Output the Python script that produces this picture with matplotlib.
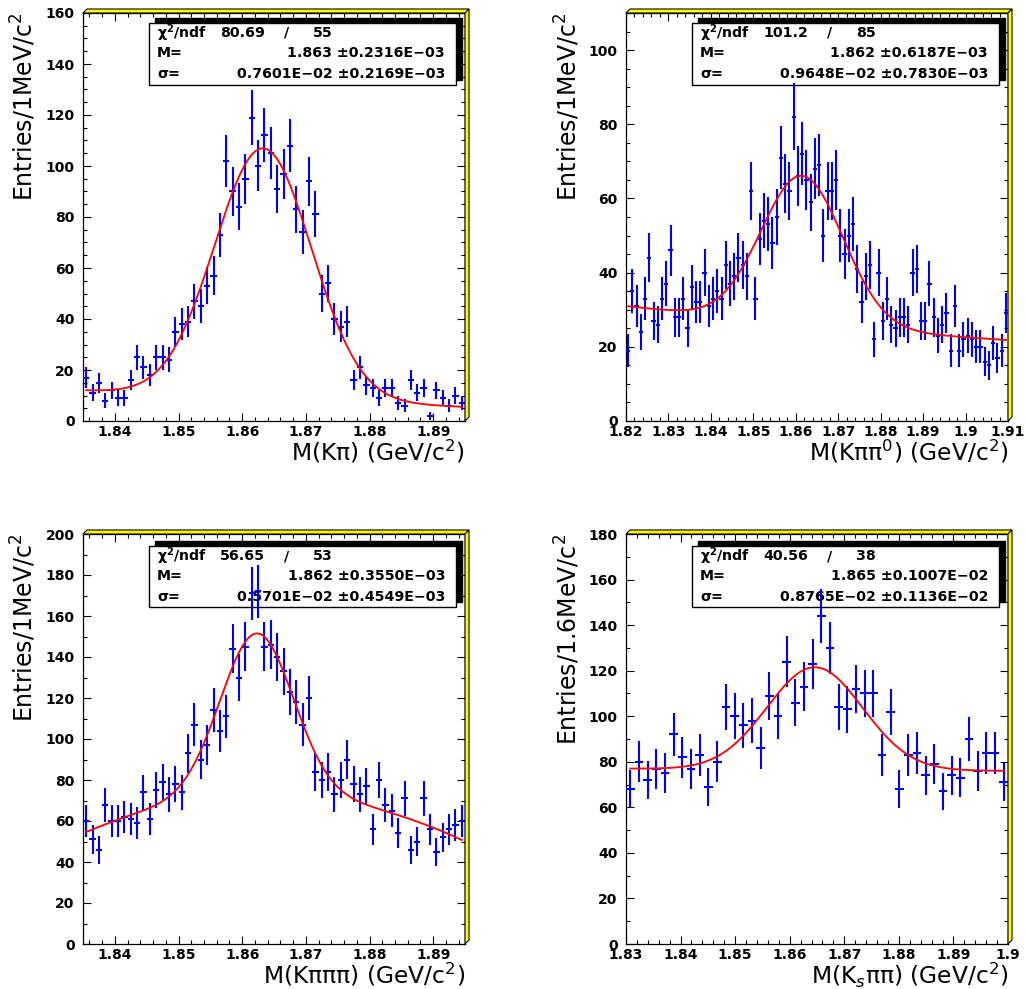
import numpy as np
import matplotlib
matplotlib.use('Agg')
import matplotlib.pyplot as plt
from matplotlib.patches import Polygon, Rectangle
from matplotlib.ticker import MultipleLocator, FuncFormatter

W, H = 1026, 989

# ---------------- data ----------------
kpi_range = (1.835, 1.895)
kpi_counts = [17, 11, 15, 8, 12, 9, 9, 16, 25, 21, 18, 25, 25, 24, 35, 38, 39, 47, 45, 53,
              57, 73, 102, 90, 84, 95, 119, 100, 112, 105, 91, 97, 108, 83, 74, 94, 81, 50, 54, 40,
              37, 39, 16, 21, 14, 13, 9, 13, 13, 7, 6, 16, 11, 13, 2, 12, 9, 6, 10, 7]

kpipi0_range = (1.82, 1.91)
kpipi0_counts = [19, 35, 31, 24, 33, 44, 27, 26, 33, 37,
                 46, 28, 28, 33, 25, 36, 32, 32, 40, 31,
                 33, 35, 33, 42, 37, 39, 44, 42, 39, 62,
                 33, 49, 54, 53, 48, 55, 71, 64, 62, 82,
                 66, 72, 65, 59, 68, 69, 50, 62, 62, 65,
                 50, 45, 50, 53, 41, 32, 39, 42, 22, 40,
                 27, 33, 26, 25, 28, 28, 26, 40, 41, 27,
                 27, 37, 28, 23, 26, 29, 19, 31, 19, 22,
                 23, 22, 20, 20, 16, 15, 21, 17, 19, 29]

k3pi_range = (1.835, 1.895)
k3pi_counts = [60, 51, 46, 68, 60, 60, 62, 61, 59, 74,
               61, 75, 79, 73, 78, 74, 93, 107, 90, 97,
               114, 104, 111, 144, 130, 145, 171, 172, 145, 146,
               140, 133, 123, 118, 107, 120, 84, 80, 84, 73,
               80, 90, 78, 73, 77, 56, 80, 68, 65, 54,
               71, 46, 50, 71, 56, 45, 52, 56, 58, 60]

kspipi_range = (1.83, 1.90)
kspipi_counts = [68, 80, 72, 77, 75, 92, 82, 77, 83, 69,
                 80, 104, 100, 96, 98, 86, 109, 100, 124, 106,
                 113, 123, 144, 130, 104, 103, 112, 110, 110, 83,
                 102, 68, 83, 84, 74, 79, 67, 74, 73, 90,
                 76, 84, 84, 71]

# fit curves: gaussian (mean, sigma, amplitude) + quadratic background in (x-1.865)
fit_mean = [1.8633, 1.8615, 1.8623, 1.8646]
fit_sigma = [0.0076, 0.009648, 0.0057, 0.008765]
fit_amp = [98.0, 40.0, 78.5, 45.0]
fit_bg = [(8.75, -108.3, 0.0), (25.76, -102.2, 318.0), (73.0, -66.7, -23333.0), (76.5, -14.3, 0.0)]

# stats boxes
stat_chi2 = ['80.69', '101.2', '56.65', '40.56']
stat_ndf = ['55', '85', '53', '38']
stat_M = ['1.863 \u00b10.2316E\u221203', '1.862 \u00b10.6187E\u221203',
          '1.862 \u00b10.3550E\u221203', '1.865 \u00b10.1007E\u221202']
stat_sigma = ['0.7601E\u221202 \u00b10.2169E\u221203', '0.9648E\u221202 \u00b10.7830E\u221203',
              '0.5701E\u221202 \u00b10.4549E\u221203', '0.8765E\u221202 \u00b10.1136E\u221202']

xlabels = ['M(K\u03c0) (GeV/c$^{2}$)', 'M(K\u03c0\u03c0$^{0}$) (GeV/c$^{2}$)',
           'M(K\u03c0\u03c0\u03c0) (GeV/c$^{2}$)', 'M(K$_{s}$\u03c0\u03c0) (GeV/c$^{2}$)']
ylabels = ['Entries/1MeV/c$^{2}$', 'Entries/1MeV/c$^{2}$',
           'Entries/1MeV/c$^{2}$', 'Entries/1.6MeV/c$^{2}$']
ylims = [160, 110, 200, 180]
yminor = [5, 5, 10, 10]

ranges = [kpi_range, kpipi0_range, k3pi_range, kspipi_range]
counts = [kpi_counts, kpipi0_counts, k3pi_counts, kspipi_counts]

# ---------------- layout (pixels) ----------------
axes_px = [(83, 13, 465, 421), (626, 13, 1008, 421), (83, 534, 465, 944), (626, 534, 1008, 944)]
box_px = [(149, 23, 456, 85), (692, 23, 999, 85), (149, 546, 456, 607), (692, 546, 999, 607)]

plt.rcParams['font.family'] = ['DejaVu Sans']
plt.rcParams['mathtext.fontset'] = 'dejavusans'

fig = plt.figure(figsize=(W / 100, H / 100), dpi=100)
fig.patch.set_facecolor('white')


def fx(x):
    return x / W


def fy(y):
    return 1 - y / H


def xfmt(v, pos):
    return '{:g}'.format(round(v, 4))


for k in range(4):
    L, T, R, B = axes_px[k]
    ax = fig.add_axes([fx(L), fy(B), (R - L) / W, (B - T) / H])
    lo, hi = ranges[k]
    c = np.array(counts[k], dtype=float)
    n = len(c)
    edges = np.linspace(lo, hi, n + 1)
    centers = 0.5 * (edges[:-1] + edges[1:])
    half = 0.5 * (edges[1] - edges[0])
    ax.errorbar(centers, c, yerr=np.sqrt(c), xerr=half, fmt='none',
                ecolor='#0000ff', elinewidth=1.5, capsize=0, zorder=3)
    xs = np.linspace(centers[0], centers[-1], 600)
    t = xs - 1.865
    p0, p1, p2 = fit_bg[k]
    ys = fit_amp[k] * np.exp(-0.5 * ((xs - fit_mean[k]) / fit_sigma[k]) ** 2) + p0 + p1 * t + p2 * t * t
    ax.plot(xs, ys, color='#ff0000', lw=1.3, zorder=4)

    ax.set_xlim(lo, hi)
    ax.set_ylim(0, ylims[k])
    ax.xaxis.set_major_locator(MultipleLocator(0.01))
    ax.xaxis.set_minor_locator(MultipleLocator(0.002))
    ax.yaxis.set_major_locator(MultipleLocator(20))
    ax.yaxis.set_minor_locator(MultipleLocator(yminor[k]))
    ax.xaxis.set_major_formatter(FuncFormatter(xfmt))
    ax.yaxis.set_major_formatter(FuncFormatter(lambda v, p: '%d' % round(v)))
    ax.tick_params(which='both', direction='in', top=True, right=True, width=0.8, color='black')
    ax.tick_params(which='major', length=6, labelsize=10)
    ax.tick_params(which='minor', length=3)
    ax.tick_params(axis='y', pad=6)
    ax.tick_params(axis='x', pad=3)
    for lab in ax.get_xticklabels() + ax.get_yticklabels():
        lab.set_fontweight('bold')
    for sp in ax.spines.values():
        sp.set_linewidth(0.9)

    ax.set_xlabel(xlabels[k], fontsize=16.8, loc='right')
    ax.xaxis.set_label_coords(1.0, -31.0 / (B - T))
    ax.xaxis.label.set_va('center')
    ax.set_ylabel(ylabels[k], fontsize=17, loc='top')
    ax.yaxis.set_label_coords((24 - 83) / (R - L), 1.0)
    ax.yaxis.label.set_va('center')

    # stats box with shadow
    bl, bt, br, bb = box_px[k]
    sh = Rectangle((fx(bl + 6), fy(bb - 5)), (br - bl) / W, (bb - bt) / H,
                   transform=fig.transFigure, facecolor='black', edgecolor='black', zorder=2)
    bx = Rectangle((fx(bl), fy(bb)), (br - bl) / W, (bb - bt) / H,
                   transform=fig.transFigure, facecolor='white', edgecolor='black', lw=1.0, zorder=2.1)
    ax.add_patch(sh)
    ax.add_patch(bx)
    tk = dict(transform=fig.transFigure, fontsize=10.2, fontweight='bold', va='center', zorder=2.2)
    ax.text(fx(bl + 8), fy(bt + 10), r'$\mathbf{\chi^{2}}$/ndf', ha='left', **tk)
    ax.text(fx(bl + 71), fy(bt + 10), stat_chi2[k], ha='left', **tk)
    ax.text(fx(bl + 138), fy(bt + 10), '/', ha='center', **tk)
    ax.text(fx(bl + 164), fy(bt + 10), stat_ndf[k], ha='left', **tk)
    ax.text(fx(bl + 8), fy(bt + 30), 'M=', ha='left', **tk)
    ax.text(fx(br - 11), fy(bt + 30), stat_M[k], ha='right', **tk)
    ax.text(fx(bl + 8), fy(bt + 51), '\u03c3=', ha='left', **tk)
    ax.text(fx(br - 11), fy(bt + 51), stat_sigma[k], ha='right', **tk)

    # yellow 3D frame strips (top and right)
    d = 4
    top = Polygon([(fx(L), fy(T)), (fx(L + d), fy(T - d)), (fx(R + d), fy(T - d)), (fx(R), fy(T))],
                  closed=True, transform=fig.transFigure, facecolor='#ffff00', edgecolor='black', lw=0.8)
    right = Polygon([(fx(R), fy(T)), (fx(R + d), fy(T - d)), (fx(R + d), fy(B - d)), (fx(R), fy(B))],
                    closed=True, transform=fig.transFigure, facecolor='#ffff00', edgecolor='black', lw=0.8)
    fig.add_artist(top)
    fig.add_artist(right)

fig.savefig('out.png', dpi=100, facecolor='white')
